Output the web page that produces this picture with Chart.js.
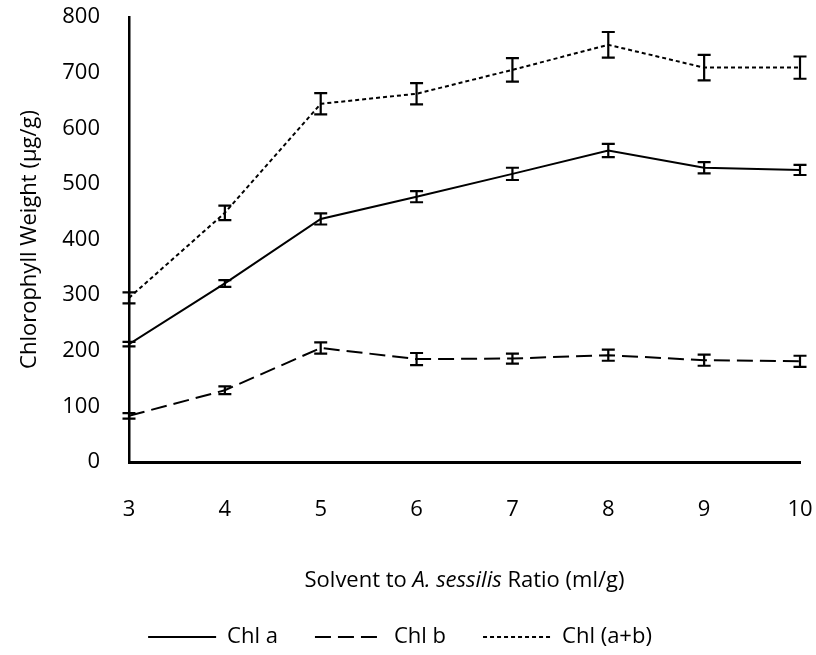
<!DOCTYPE html>
<html>
<head>
<meta charset="utf-8">
<script src="https://cdn.jsdelivr.net/npm/chart.js@4.4.1/dist/chart.umd.min.js"></script>
<style>
  html, body { margin: 0; background: #fff; }
  #wrap { width: 816px; height: 655px; position: relative; }
</style>
</head>
<body>
<div id="wrap"><canvas id="chart"></canvas></div>
<script>
const ratios = [3, 4, 5, 6, 7, 8, 9, 10];
const chlA = [212, 321, 437, 477, 518, 560, 529, 525];
const chlAErr = [4, 6, 10, 10, 11, 12, 10, 9];
const chlB = [83, 129, 205, 185, 186, 192, 183, 181];
const chlBErr = [5, 7, 10, 11, 9, 10, 10, 10];
const chlAB = [295, 448, 644, 662, 705, 750, 709, 709];
const chlABErr = [10, 13, 19, 19, 21, 23, 23, 20];
const yTicks = [0, 100, 200, 300, 400, 500, 600, 700, 800];

const FONT = "'Open Sans', sans-serif";
const SIZE = 22;

const toPoints = vals => vals.map((v, i) => ({ x: ratios[i], y: v }));

// draws the +/- error bars from each dataset's errors array
const errorBars = {
  id: 'errorBars',
  afterDatasetsDraw(chart) {
    const { ctx, scales: { x, y } } = chart;
    ctx.save();
    ctx.strokeStyle = '#000';
    ctx.lineWidth = 2.2;
    ctx.setLineDash([]);
    chart.data.datasets.forEach(ds => {
      ds.data.forEach((p, i) => {
        const e = ds.errors[i];
        const px = x.getPixelForValue(p.x);
        const top = y.getPixelForValue(p.y + e);
        const bot = y.getPixelForValue(p.y - e);
        ctx.beginPath();
        ctx.moveTo(px, top); ctx.lineTo(px, bot);
        ctx.moveTo(px - 6.5, top); ctx.lineTo(px + 6.5, top);
        ctx.moveTo(px - 6.5, bot); ctx.lineTo(px + 6.5, bot);
        ctx.stroke();
      });
    });
    ctx.restore();
  }
};

// x title with the italic species name
const xTitle = {
  id: 'xTitle',
  afterDraw(chart) {
    const { ctx, chartArea } = chart;
    const parts = [
      { t: 'Solvent to ', f: `${SIZE}px ${FONT}` },
      { t: 'A. sessilis', f: `italic ${SIZE}px ${FONT}` },
      { t: ' Ratio (ml/g)', f: `${SIZE}px ${FONT}` }
    ];
    ctx.save();
    let total = 0;
    parts.forEach(p => { ctx.font = p.f; p.w = ctx.measureText(p.t).width; total += p.w; });
    let cx = (chartArea.left + chartArea.right) / 2 - total / 2;
    ctx.fillStyle = '#000';
    ctx.textBaseline = 'middle';
    ctx.textAlign = 'left';
    parts.forEach(p => { ctx.font = p.f; ctx.fillText(p.t, cx, 581); cx += p.w; });
    ctx.restore();
  }
};

Chart.defaults.font.family = FONT;
Chart.defaults.font.size = SIZE;
Chart.defaults.color = '#000';

new Chart(document.getElementById('chart').getContext('2d'), {
  type: 'line',
  data: {
    datasets: [
      { label: 'Chl a', data: toPoints(chlA), errors: chlAErr, borderColor: '#000', borderWidth: 2, borderDash: [] },
      { label: 'Chl b', data: toPoints(chlB), errors: chlBErr, borderColor: '#000', borderWidth: 2, borderDash: [16, 7] },
      { label: 'Chl (a+b)', data: toPoints(chlAB), errors: chlABErr, borderColor: '#000', borderWidth: 2, borderDash: [4, 3] }
    ]
  },
  options: {
    responsive: true,
    maintainAspectRatio: false,
    animation: false,
    events: [],
    elements: { point: { radius: 0 }, line: { tension: 0 } },
    layout: { padding: { left: 0, right: 16, top: 17, bottom: -3 } },
    plugins: {
      tooltip: { enabled: false },
      legend: {
        position: 'bottom',
        labels: {
          usePointStyle: true,
          pointStyle: 'line',
          pointStyleWidth: 68,
          padding: 37,
          color: '#000',
          font: { size: SIZE, family: FONT },
          generateLabels: chart => Chart.defaults.plugins.legend.labels.generateLabels(chart).map(l => ({
            ...l,
            lineDash: chart.data.datasets[l.datasetIndex].borderDash,
            lineWidth: 1.8,
            strokeStyle: '#000',
            pointStyle: 'line'
          }))
        }
      }
    },
    scales: {
      x: {
        type: 'linear',
        min: 3,
        max: 10,
        afterBuildTicks: s => { s.ticks = ratios.map(v => ({ value: v })); },
        afterFit: s => { s.height = 127; s.paddingLeft = 0; s.paddingRight = 0; },
        grid: { display: false, drawTicks: false },
        border: { display: true, color: '#000', width: 3 },
        ticks: { padding: 35, color: '#000' }
      },
      y: {
        min: 0,
        max: 800,
        afterBuildTicks: s => { s.ticks = yTicks.map(v => ({ value: v })); },
        afterFit: s => { s.width = 129; s.paddingTop = 0; s.paddingBottom = 0; },
        grid: { display: false, drawTicks: false },
        border: { display: true, color: '#000', width: 2.5 },
        ticks: { padding: 29, color: '#000' },
        title: {
          display: true,
          text: 'Chlorophyll Weight (μg/g)',
          padding: { top: 17, bottom: 0 },
          font: { size: SIZE, family: FONT }
        }
      }
    }
  },
  plugins: [errorBars, xTitle]
});
</script>
</body>
</html>
